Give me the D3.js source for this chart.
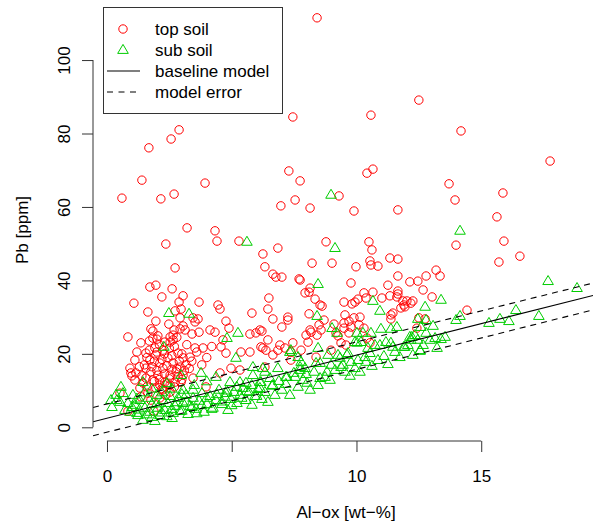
<!DOCTYPE html>
<html>
<head>
<meta charset="utf-8">
<script src="https://cdn.jsdelivr.net/npm/d3@7"></script>
<style>
  body { margin: 0; background: #fff; }
  svg { font-family: "Liberation Sans", Arial, Helvetica, sans-serif; }
</style>
</head>
<body>
<div id="chart"></div>
<script>
// top soil samples: [Al-ox wt-%, Pb ppm]
const topSoil = [
  [8.42,111.5],[7.45,84.5],[10.58,85.0],[12.5,89.1],[14.19,80.7],[17.76,72.5],[1.68,76.1],[2.57,78.5],[2.89,81.0],
  [1.40,67.3],[3.93,66.5],[7.29,69.8],[7.74,67.1],[0.60,62.4],[2.16,62.2],[2.69,63.5],[10.42,69.2],[10.66,70.3],
  [13.71,66.3],[15.87,63.8],[7.54,61.9],[9.30,63.0],[13.95,61.9],[6.97,60.3],[8.14,59.7],[9.90,58.9],[11.66,59.2],
  [15.63,57.3],[3.21,54.3],[4.33,53.5],[4.41,50.7],[5.29,50.7],[2.36,49.9],[15.91,50.7],[13.99,49.6],[16.55,46.6],
  [15.71,45.0],[13.19,42.8],[12.79,41.2],[13.35,41.2],[12.67,37.4],[13.03,35.5],[14.43,31.9],[12.75,29.5],
  [8.78,50.5],[10.50,50.5],[10.62,48.3],[6.85,48.8],[6.25,47.2],[8.22,44.7],[9.02,44.7],[9.98,43.7],[10.54,45.3],
  [10.58,44.2],[10.86,43.9],[11.34,46.1],[11.66,45.8],[6.33,43.7],[6.65,41.7],[6.77,40.9],[7.74,40.1],[11.66,41.2],
  [11.26,38.7],[12.14,39.6],[12.46,39.8],[9.78,39.3],[8.14,37.9],[8.10,36.8],[7.94,36.6],[8.34,34.9],[8.54,33.3],
  [8.62,33.0],[6.49,35.2],[6.45,32.2],[6.65,29.5],[7.25,30.0],[7.25,29.2],[7.01,27.3],[8.10,30.9],[9.50,34.1],
  [9.82,33.6],[9.94,34.1],[10.06,34.9],[10.30,36.6],[10.38,35.2],[10.66,36.8],[11.02,35.2],[11.34,35.8],[11.66,37.1],
  [11.66,36.3],[11.62,35.5],[11.86,34.4],[12.02,34.4],[12.18,33.8],[12.26,34.4],[11.78,32.5],[11.90,33.3],[11.94,32.8],
  [11.38,30.6],[11.46,31.1],[11.38,29.5],[12.50,29.8],[8.70,29.2],[8.50,27.9],[8.58,26.5],[9.18,25.7],[9.54,30.6],
  [9.70,28.9],[9.50,28.4],[9.90,29.8],[10.14,30.0],[10.10,27.9],[10.30,27.0],[9.78,27.3],[9.10,28.1],[9.50,27.0],
  [8.14,26.5],[8.18,25.9],[7.98,25.1],[8.42,25.1],[9.26,24.9],[9.70,25.7],[10.42,24.3],[6.13,26.5],[2.73,43.4],
  [1.72,38.2],[1.96,38.7],[2.61,37.7],[2.20,35.5],[3.05,35.8],[1.08,33.8],[2.89,34.1],[3.69,34.1],[1.64,31.4],
  [2.73,31.7],[2.97,32.2],[4.45,33.3],[4.53,32.2],[5.81,31.1],[1.96,28.9],[2.93,29.8],[3.45,29.8],[3.65,29.5],
  [3.53,28.7],[4.77,28.9],[4.89,27.0],[3.05,27.6],[3.13,26.5],[2.93,26.8],[2.48,28.1],[1.76,26.8],[1.84,26.2],
  [2.69,26.5],[3.69,25.9],[3.41,25.4],[4.13,26.5],[4.33,25.9],[0.84,24.6],[2.04,24.9],[2.53,24.6],[2.65,25.1],
  [5.73,25.4],[5.97,25.7],[6.21,26.2],[1.36,23.0],[1.84,24.3],[2.32,23.2],[2.65,23.8],[3.53,21.6],[3.85,21.6],
  [4.65,23.8],[4.57,21.9],[4.77,20.2],[5.37,20.5],[5.73,20.5],[6.25,21.6],[1.12,18.3],[0.92,16.1],[0.96,14.8],
  [1.16,14.8],[1.12,12.9],[1.44,12.1],[1.32,10.7],[1.56,16.1],[1.72,18.3],[1.96,19.7],[2.12,17.5],[2.24,16.1],
  [2.44,18.9],[2.65,17.5],[2.85,20.2],[3.05,18.9],[3.17,17.0],[3.33,19.1],[2.77,15.1],[2.53,14.2],[2.32,12.3],
  [2.12,11.5],[1.84,12.9],[1.96,10.7],[2.24,10.2],[2.53,11.5],[2.73,12.3],[2.85,13.7],[3.05,14.2],[1.56,13.4],
  [1.76,15.1],[2.04,14.2],[1.64,9.3],[1.36,8.3],[1.76,7.4],[2.12,8.0],[2.36,8.8],[2.53,9.6],[2.97,12.3],[3.45,13.4],
  [3.97,11.0],[4.53,14.8],[4.97,16.1],[5.33,15.6],[2.93,16.4],[2.53,23.2],[2.24,21.0],[1.92,21.6],[1.56,20.2],
  [1.88,4.4],[0.52,9.3],[0.84,4.4],[1.00,14.0],[6.45,23.8],[6.93,22.4],[6.37,21.0],[6.65,19.7],[6.85,21.0],
  [7.13,21.6],[7.37,20.5],[7.45,23.0],[7.78,21.0],[7.37,18.3],[8.06,23.2],[8.38,19.1],[8.98,21.0],[9.38,23.0],
  [9.58,22.4],[10.54,23.0],[6.33,16.4],[6.17,21.9],[12.42,27.0],[7.01,40.9],[7.70,40.4],
  [1.50,17.0],[1.60,19.0],[1.70,21.0],[1.80,16.5],[1.90,18.0],[2.00,15.5],[2.00,20.5],[2.10,13.0],[2.10,22.5],
  [2.20,18.5],[2.30,14.5],[2.30,20.0],[2.40,11.8],[2.40,16.8],[2.50,13.2],[2.50,21.5],[2.60,15.8],[2.60,19.5],
  [2.70,11.0],[2.70,22.0],[2.80,16.0],[2.90,18.0],[3.00,13.0],[3.00,20.0],[3.10,15.5],[3.20,22.5],[3.30,16.0],
  [1.40,14.0],[1.60,11.0],[1.90,12.5],[2.20,10.5],[2.00,24.0],[1.70,23.5],[2.80,24.5],[3.40,18.0],[3.60,20.5],
  [3.80,17.0],[4.00,19.0],[4.20,22.0],[1.20,20.5],[1.30,16.5]
];

// sub soil samples: [Al-ox wt-%, Pb ppm]
const subSoil = [
  [8.98,63.3],[5.61,50.5],[9.14,48.8],[14.15,53.5],[8.46,39.0],[17.68,39.8],[18.84,37.9],[2.48,31.1],[3.29,30.9],
  [10.66,34.4],[10.94,31.7],[12.75,32.8],[13.39,34.7],[8.42,30.3],[12.46,29.5],[9.02,27.0],[10.02,25.7],[10.58,25.7],
  [10.98,26.8],[11.38,26.8],[11.62,27.3],[12.14,24.6],[12.58,27.3],[12.79,29.2],[16.39,31.9],[17.31,30.3],[13.99,29.2],
  [14.15,30.3],[15.31,28.4],[15.75,29.5],[16.11,28.9],[13.07,27.6],[12.79,25.7],[13.15,24.3],[13.55,24.6],[13.39,24.0],
  [11.90,21.9],[12.55,20.8],[9.22,25.7],[10.26,25.7],[10.02,23.0],[9.62,19.7],[8.54,17.5],[8.02,12.1],[8.46,11.5],
  [7.54,13.7],[7.21,13.7],[7.74,15.6],[8.82,15.1],[9.46,17.0],[10.34,19.1],[10.54,20.2],[10.94,22.4],[11.46,21.9],
  [12.22,24.6],[12.34,25.1],[7.37,21.0],[7.66,19.1],[8.46,21.6],[8.86,19.7],[9.34,18.9],[9.66,20.2],[9.94,23.2],
  [10.18,23.2],[10.46,21.6],[10.74,22.4],[11.18,23.2],[11.38,23.0],[11.94,21.9],[12.18,23.8],[12.46,23.8],[12.55,21.0],
  [6.33,15.1],[6.17,12.3],[6.13,10.7],[6.85,16.1],[7.17,13.7],[7.94,16.1],[8.74,13.7],[8.98,17.0],[9.38,16.4],
  [9.78,17.8],[10.06,18.3],[9.26,19.7],[7.78,17.8],[8.38,17.5],[6.53,13.4],[6.65,11.5],[0.56,11.0],[0.36,8.8],
  [0.16,7.4],[0.52,6.9],[0.84,6.6],[1.04,8.8],[1.44,12.3],[2.28,21.9],[2.97,14.2],[3.77,14.8],[4.37,13.7],[4.77,9.3],
  [5.17,18.9],[5.33,12.3],[4.93,12.3],[5.57,12.1],[5.85,14.2],[6.13,12.3],[6.25,16.1],[3.05,10.2],[3.45,10.2],
  [1.44,2.0],[1.92,1.7],[2.65,3.9],[1.24,3.3],[0.92,4.2],[0.72,4.7],[0.20,5.5],[0.40,7.4],[0.64,9.3],[1.20,3.9],
  [4.81,24.3],[5.25,25.7],[5.85,16.4],[7.33,20.5],[7.74,16.4],
  [1.12,6.1],[1.32,7.4],[1.52,5.3],[1.64,8.0],[1.72,4.2],[1.80,6.3],[2.00,8.8],[2.04,5.3],[2.12,3.3],[2.24,7.4],
  [2.32,4.7],[2.44,6.6],[2.53,8.5],[2.61,2.5],[2.73,5.8],[2.85,8.0],[2.93,4.4],[3.05,6.6],[3.17,8.8],[3.25,3.6],
  [3.33,5.8],[3.45,8.0],[3.57,5.0],[3.69,7.2],[3.81,9.3],[3.89,4.2],[4.01,6.3],[4.13,8.5],[4.25,5.3],[4.37,7.4],
  [4.49,10.2],[4.61,6.3],[4.73,8.3],[4.85,4.7],[4.97,7.7],[5.09,9.6],[5.21,6.6],[5.33,8.8],[5.45,10.7],[5.57,7.4],
  [5.69,9.6],[5.81,6.1],[5.93,8.5],[6.05,10.4],[6.21,7.7],[6.33,9.6],[6.45,6.9],[6.61,11.3],[6.73,8.8],[6.89,12.6],
  [7.01,10.2],[7.17,11.8],[7.33,8.8],[7.49,14.8],[7.66,11.0],[7.86,12.9],[7.98,14.5],[8.14,10.2],[8.30,15.1],
  [8.54,13.4],[8.94,12.9],[9.14,15.6],[9.54,15.1],[9.74,14.0],[9.94,16.1],[10.14,15.1],[10.38,17.8],[10.62,16.7],
  [10.86,18.3],[11.10,19.4],[11.26,17.2],[11.54,20.5],[11.74,19.1],[12.06,22.4],[12.26,19.7],[12.67,22.4],[12.95,23.8],
  [13.23,21.6],
  [1.00,5.5],[1.30,4.8],[1.60,3.5],[1.80,2.8],[2.00,6.5],[2.20,4.0],[2.40,3.0],[2.60,5.0],[2.80,6.8],[3.00,4.5],
  [3.20,7.0],[3.40,5.5],[3.60,3.8],[3.80,6.0],[4.00,8.0],[4.20,5.0],[4.40,9.0],[4.60,7.0],[4.80,10.0],[5.00,6.0],
  [5.20,11.0],[5.40,8.0],[5.60,9.8],[5.80,11.5],[6.00,8.5],[2.20,9.5],[2.60,10.5],[3.00,9.0],[1.50,9.5],[1.80,10.5],
  [3.50,11.5],[4.00,12.5],[1.20,7.8],[2.40,12.0]
];

// model lines: [intercept, slope]
const baselineModel = [2.48, 1.716];
const errorUpper = [6.35, 1.69];
const errorLower = [-1.34, 1.71];

const xTicks = [0, 5, 10, 15];
const yTicks = [0, 20, 40, 60, 80, 100];
const legendLabels = ["top soil", "sub soil", "baseline model", "model error"];

const W = 593, H = 525;
const plot = { left: 93, right: 593, top: 0, bottom: 441 };

const svg = d3.select("#chart").append("svg")
    .attr("width", W)
    .attr("height", H);

const x = d3.scaleLinear().domain([-0.56, 19.48]).range([plot.left, plot.right]);
const y = d3.scaleLinear().domain([-3.73, 116.0]).range([plot.bottom, plot.bottom - 119.73 * 3.6725]);

svg.append("clipPath").attr("id", "clip")
  .append("rect")
    .attr("x", plot.left).attr("y", plot.top)
    .attr("width", plot.right - plot.left).attr("height", plot.bottom - plot.top);

const red = "#FF0000", green = "#00CD00";
const tri = "M0,-5.6L5.3,3.4L-5.3,3.4Z";

// points
const pts = svg.append("g").attr("clip-path", "url(#clip)");
pts.selectAll("circle.top")
  .data(topSoil)
  .join("circle")
    .attr("class", "top")
    .attr("cx", d => x(d[0]))
    .attr("cy", d => y(d[1]))
    .attr("r", 4.2)
    .attr("fill", "none")
    .attr("stroke", red)
    .attr("stroke-width", 1);

pts.selectAll("path.sub")
  .data(subSoil)
  .join("path")
    .attr("class", "sub")
    .attr("d", tri)
    .attr("transform", d => `translate(${x(d[0])},${y(d[1])})`)
    .attr("fill", "none")
    .attr("stroke", green)
    .attr("stroke-width", 1);

// model lines
const lineGen = d3.line().x(d => x(d[0])).y(d => y(d[1]));
const xr = x.domain();
const modelLine = (m) => xr.map(v => [v, m[0] + m[1] * v]);
const lines = svg.append("g").attr("clip-path", "url(#clip)");
lines.append("path").attr("d", lineGen(modelLine(baselineModel)))
  .attr("fill", "none").attr("stroke", "#000").attr("stroke-width", 1.1);
[errorUpper, errorLower].forEach(m => {
  lines.append("path").attr("d", lineGen(modelLine(m)))
    .attr("fill", "none").attr("stroke", "#000").attr("stroke-width", 1.1)
    .attr("stroke-dasharray", "6,5");
});

// axes
const xAxis = svg.append("g")
  .attr("transform", `translate(0,${plot.bottom})`)
  .call(d3.axisBottom(x).tickValues(xTicks).tickSize(11).tickPadding(18).tickFormat(d3.format("d")));
xAxis.select(".domain").remove();
xAxis.append("line")
  .attr("x1", x(xTicks[0])).attr("x2", x(xTicks[xTicks.length - 1]))
  .attr("stroke", "#333");

const yAxis = svg.append("g")
  .attr("transform", `translate(${plot.left},0)`)
  .call(d3.axisLeft(y).tickValues(yTicks).tickSize(11).tickFormat(d3.format("d")));
yAxis.select(".domain").remove();
yAxis.append("line")
  .attr("y1", y(yTicks[0])).attr("y2", y(yTicks[yTicks.length - 1]))
  .attr("stroke", "#333");
yAxis.selectAll(".tick text")
  .attr("x", null).attr("dy", null)
  .attr("text-anchor", "middle")
  .attr("transform", "translate(-23,0) rotate(-90)");

svg.selectAll(".tick line").attr("stroke", "#333");
svg.selectAll(".tick text")
  .attr("fill", "#000")
  .style("font-size", "17px")
  .style("font-family", "'Liberation Sans', Arial, Helvetica, sans-serif");

// axis titles
svg.append("text")
  .attr("x", 346).attr("y", 518)
  .attr("text-anchor", "middle")
  .style("font-size", "17px")
  .text("Al\u2212ox [wt\u2212%]");

svg.append("text")
  .attr("transform", "translate(28,230) rotate(-90)")
  .attr("text-anchor", "middle")
  .style("font-size", "17px")
  .text("Pb [ppm]");

// legend
const legend = svg.append("g").attr("transform", "translate(103,7)");
legend.append("rect")
  .attr("x", 0.5).attr("y", 0.5)
  .attr("width", 179).attr("height", 106)
  .attr("fill", "#fff").attr("stroke", "#333");

legendLabels.forEach((lab, i) => {
  const cy = 22 + i * 21;
  const row = legend.append("g");
  if (i === 0) {
    row.append("circle").attr("cx", 20).attr("cy", cy).attr("r", 4.2)
      .attr("fill", "none").attr("stroke", red);
  } else if (i === 1) {
    row.append("path").attr("d", tri).attr("transform", `translate(20,${cy})`)
      .attr("fill", "none").attr("stroke", green);
  } else {
    row.append("line").attr("x1", 4).attr("x2", 37).attr("y1", cy).attr("y2", cy)
      .attr("stroke", "#000").attr("stroke-width", 1.1)
      .attr("stroke-dasharray", i === 3 ? "6,5.5" : null);
  }
  row.append("text")
    .attr("x", 52).attr("y", cy + 6)
    .style("font-size", "17px")
    .text(lab);
});
</script>
</body>
</html>
